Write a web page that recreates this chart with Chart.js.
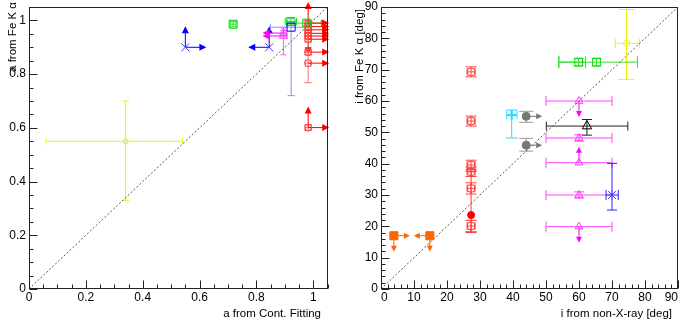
<!DOCTYPE html>
<html><head><meta charset="utf-8">
<script src="https://cdn.jsdelivr.net/npm/chart.js@4.4.1/dist/chart.umd.min.js"></script>
<style>
html,body{margin:0;padding:0;background:#fff;width:685px;height:321px;overflow:hidden}
#c1{position:absolute;left:0;top:0}
#c2{position:absolute;left:342px;top:0}
</style></head><body>
<canvas id="c1" width="342" height="321"></canvas>
<canvas id="c2" width="343" height="321"></canvas>
<script>
// ================= LEFT PANEL : spin a =================
const aXTicks = [0, 0.2, 0.4, 0.6, 0.8, 1];
const aXTickLabels = ['0', '0.2', '0.4', '0.6', '0.8', '1'];
const aYTicks = [0, 0.2, 0.4, 0.6, 0.8, 1];
const aYTickLabels = ['0', '0.2', '0.4', '0.6', '0.8', '1'];
const aXTitle = 'a from Cont. Fitting';
const aYTitle = 'a from Fe K α';
const aDiagonal = [0, 1.05];

const aYelX = [0.34], aYelY = [0.55], aYelXLo = [0.28], aYelXHi = [0.20], aYelYLo = [0.22], aYelYHi = [0.15];
const aBlueXX = [0.55, 0.845], aBlueXY = [0.90, 0.90], aBlueXLim = ['UR', 'UL'];
const aBlueSqX = [0.922], aBlueSqY = [0.975], aBlueSqXLo = [0.073], aBlueSqXHi = [0.05], aBlueSqYLo = [0.255], aBlueSqYHi = [0.015];
const aGreenX = [0.718, 0.921, 0.977], aGreenY = [0.986, 0.996, 0.99];
const aGreenXLo = [0.01, 0.02, 0.07], aGreenXHi = [0.01, 0.02, 0.01], aGreenYLo = [0.01, 0.01, 0.01], aGreenYHi = [0.01, 0.01, 0.01], aGreenLim = ['', '', 'R'];
const aMagX = [0.895, 0.895], aMagY = [0.953, 0.942], aMagXLo = [0, 0], aMagXHi = [0.012, 0.012], aMagYLo = [0.01, 0.07], aMagYHi = [0.01, 0.03], aMagLim = ['L', 'L'];
const aRedX = [0.982, 0.982, 0.982, 0.982, 0.982, 0.982, 0.982, 0.982, 0.982];
const aRedY = [0.99, 0.977, 0.965, 0.952, 0.942, 0.93, 0.882, 0.841, 0.601];
const aRedXLo = [0.01, 0.01, 0.01, 0.01, 0.01, 0.01, 0.01, 0.01, 0.01];
const aRedXHi = [0.01, 0.01, 0.01, 0.01, 0.01, 0.01, 0.01, 0.01, 0.01];
const aRedYLo = [0.01, 0.01, 0.01, 0.01, 0.01, 0.01, 0.01, 0.073, 0.01];
const aRedYHi = [0.01, 0.01, 0.01, 0.01, 0.01, 0.01, 0.01, 0.04, 0.01];
const aRedLim = ['UR', 'R', 'R', 'DR', 'R', 'R', 'R', 'R', 'UR'];

// ================= RIGHT PANEL : inclination i =================
const iXTicks = [0, 10, 20, 30, 40, 50, 60, 70, 80, 90];
const iXTickLabels = ['0', '10', '20', '30', '40', '50', '60', '70', '80', '90'];
const iYTicks = [0, 10, 20, 30, 40, 50, 60, 70, 80, 90];
const iYTickLabels = ['0', '10', '20', '30', '40', '50', '60', '70', '80', '90'];
const iXTitle = 'i from non-X-ray [deg]';
const iYTitle = 'i from Fe K α [deg]';
const iDiagonal = [0, 90];

const iYelX = [74.4], iYelY = [78.4], iYelXLo = [3.4], iYelXHi = [3.9], iYelYLo = [11.5], iYelYHi = [10.8];
const iGreenX = [59.9, 65.3], iGreenY = [72.4, 72.4], iGreenXLo = [6.0, 11.4], iGreenXHi = [2.1, 12.4], iGreenYLo = [1.2, 1.2], iGreenYHi = [1.2, 1.2];
const iRedX = [27.3, 27.3, 27.3, 27.3, 27.3, 27.3], iRedY = [69.3, 53.6, 39.6, 37.4, 32.1, 20.1];
const iRedXLo = [1.2, 1.2, 1.2, 1.2, 1.2, 1.2], iRedXHi = [1.2, 1.2, 1.2, 1.2, 1.2, 1.2];
const iRedYLo = [1.6, 1.6, 1.5, 1.5, 1.8, 1.8], iRedYHi = [1.6, 1.6, 1.5, 1.5, 1.8, 1.8];
const iRedFillX = [27.3], iRedFillY = [23.6], iRedFillYLo = [5.6], iRedFillYHi = [14.0];
const iCyanX = [39.6], iCyanY = [55.5], iCyanXLo = [1.5], iCyanXHi = [1.6], iCyanYLo = [7.3], iCyanYHi = [1.6];
const iGrayX = [44.0, 44.0], iGrayY = [55.1, 45.9], iGrayYLo = [1.9, 1.9], iGrayYHi = [1.6, 2.2], iGrayLim = ['R', 'R'];
const iBlackX = [62.4], iBlackY = [52.0], iBlackXLo = [12.3], iBlackXHi = [12.4], iBlackYLo = [2.9], iBlackYHi = [2.1];
const iMagX = [60, 60, 60, 60, 60], iMagY = [60.0, 48.2, 40.3, 30.0, 19.9];
const iMagXLo = [10, 10, 10, 10, 10], iMagXHi = [10, 10, 10, 10, 10];
const iMagYLo = [0, 1, 0, 1, 0], iMagYHi = [0, 1, 0, 1, 0], iMagLim = ['D', '', 'U', '', 'D'];
const iBlueX = [70], iBlueY = [30], iBlueXLo = [1.8], iBlueXHi = [1.9], iBlueYLo = [4.8], iBlueYHi = [10.1];
const iOrangeX = [3.9, 14.8], iOrangeY = [17, 17], iOrangeLim = ['RD', 'LD'];

// ================= helpers =================
const FONT = "'Liberation Sans', Arial, Helvetica, sans-serif";

function pts(xs, ys) { return xs.map((v, i) => ({x: v, y: ys[i]})); }
function set(xs, ys, style, err) {
  return Object.assign({type: 'scatter', data: pts(xs, ys), showLine: false, errors: err || {}, order: 1}, style);
}
function diag(vals) {
  return {type: 'line', data: pts(vals, vals), borderColor: '#555', borderWidth: 1, borderDash: [2, 2],
          pointRadius: 0, fill: false, order: 5, clip: false};
}

const errorBars = {
  id: 'errorBars',
  beforeDatasetsDraw(chart, args, o) {
    const ctx = chart.ctx, xs = chart.scales.x, ys = chart.scales.y;
    const line = (a, b, c, d) => { ctx.beginPath(); ctx.moveTo(a, b); ctx.lineTo(c, d); ctx.stroke(); };
    const dirs = {U: [0, -1], D: [0, 1], L: [-1, 0], R: [1, 0]};
    chart.data.datasets.forEach(ds => {
      const e = ds.errors; if (!e) return;
      ds.data.forEach((p, i) => {
        const px = xs.getPixelForValue(p.x), py = ys.getPixelForValue(p.y);
        ctx.save();
        ctx.lineWidth = 1;
        ctx.strokeStyle = ds.errColor || ds.borderColor;
        const xl = e.xlo ? e.xlo[i] : 0, xh = e.xhi ? e.xhi[i] : 0;
        const yl = e.ylo ? e.ylo[i] : 0, yh = e.yhi ? e.yhi[i] : 0;
        if (xl || xh) {
          const x1 = xs.getPixelForValue(p.x - xl), x2 = xs.getPixelForValue(p.x + xh);
          line(x1, py, x2, py);
          const c = (ds.capX || 8) / 2;
          if (xl) line(x1, py - c, x1, py + c);
          if (xh) line(x2, py - c, x2, py + c);
        }
        if (yl || yh) {
          const y1 = ys.getPixelForValue(p.y - yl), y2 = ys.getPixelForValue(p.y + yh);
          line(px, y1, px, y2);
          const c = (ds.capY || 8) / 2;
          if (yl) line(px - c, y1, px + c, y1);
          if (yh) line(px - c, y2, px + c, y2);
        }
        const lim = e.lim ? e.lim[i] : '';
        for (const d of lim) {
          const v = dirs[d];
          const L = o.arrowLen, hl = o.headLen, hw = o.headWidth;
          const tx = px + v[0] * L, ty = py + v[1] * L;
          ctx.strokeStyle = ds.arrowColor || ds.borderColor;
          ctx.fillStyle = ds.arrowColor || ds.borderColor;
          line(px, py, tx - v[0] * hl * 0.5, ty - v[1] * hl * 0.5);
          const bx = tx - v[0] * hl, by = ty - v[1] * hl;
          ctx.beginPath();
          ctx.moveTo(tx, ty);
          ctx.lineTo(bx - v[1] * hw, by + v[0] * hw);
          ctx.lineTo(bx + v[1] * hw, by - v[0] * hw);
          ctx.closePath(); ctx.fill();
        }
        ctx.restore();
      });
    });
  }
};

const frameAxes = {
  id: 'frameAxes',
  afterDatasetsDraw(chart, args, o) {
    const ctx = chart.ctx, a = chart.chartArea, xs = chart.scales.x, ys = chart.scales.y;
    ctx.save();
    ctx.strokeStyle = '#222'; ctx.lineWidth = 1;
    const L = Math.round(a.left) + 0.5, R = Math.round(a.right) - 0.5, T = Math.round(a.top) + 0.5, B = Math.round(a.bottom) - 0.5;
    ctx.strokeRect(L, T, R - L, B - T);
    const n = Math.round(xs.max / o.minorX);
    for (let k = 0; k <= n; k++) {
      const v = k * o.minorX;
      const major = o.majorX.some(m => Math.abs(m - v) < 1e-9);
      const px = Math.round(xs.getPixelForValue(v)) + 0.5;
      ctx.beginPath(); ctx.moveTo(px, B); ctx.lineTo(px, B - (major ? 8 : 4)); ctx.stroke();
    }
    const m = Math.round(ys.max / o.minorY);
    for (let k = 0; k <= m; k++) {
      const v = k * o.minorY;
      const major = o.majorY.some(q => Math.abs(q - v) < 1e-9);
      const py = Math.round(ys.getPixelForValue(v)) + 0.5;
      ctx.beginPath(); ctx.moveTo(L, py); ctx.lineTo(L + (major ? 8 : 4), py); ctx.stroke();
    }
    ctx.restore();
  },
  afterDraw(chart, args, o) {
    const ctx = chart.ctx;
    ctx.save();
    ctx.fillStyle = '#000';
    ctx.font = '11.5px ' + FONT;
    ctx.textBaseline = 'alphabetic';
    ctx.textAlign = 'right';
    ctx.fillText(o.xTitle, o.xTitleRight, o.xTitleBase);
    ctx.translate(o.yTitleBase, o.yTitleTop);
    ctx.rotate(-Math.PI / 2);
    ctx.textAlign = 'right';
    ctx.fillText(o.yTitle, 0, 0);
    ctx.restore();
  }
};

function axes(xmax, ymax, xt, xl, yt, yl, yWidth, xAlign) {
  return {
    x: {type: 'linear', min: 0, max: xmax,
        afterBuildTicks: s => { s.ticks = xt.map(v => ({value: v})); },
        afterFit: s => { s.height = 32; s.paddingLeft = 0; s.paddingRight = 0; },
        grid: {display: false, drawTicks: false}, border: {display: false},
        ticks: {padding: 1, color: '#000', font: {family: FONT, size: 12}, maxRotation: 0, autoSkip: false,
                align: xAlign, callback: (v, i) => xl[i]}},
    y: {type: 'linear', min: 0, max: ymax,
        afterBuildTicks: s => { s.ticks = yt.map(v => ({value: v})); },
        afterFit: s => { s.width = yWidth; s.paddingTop = 0; s.paddingBottom = 0; },
        grid: {display: false, drawTicks: false}, border: {display: false},
        ticks: {padding: 3, color: '#000', font: {family: FONT, size: 12}, autoSkip: false,
                callback: (v, i) => yl[i]}}
  };
}

// ================= LEFT CHART =================
new Chart(document.getElementById('c1'), {
  type: 'scatter',
  data: {datasets: [
    diag(aDiagonal),
    set(aYelX, aYelY, {pointStyle: 'circle', pointRadius: 2.5, borderColor: '#eeee00', backgroundColor: 'rgba(0,0,0,0)', borderWidth: 1, errColor: '#f2f200', capX: 6, capY: 7},
        {xlo: aYelXLo, xhi: aYelXHi, ylo: aYelYLo, yhi: aYelYHi}),
    set(aBlueXX, aBlueXY, {pointStyle: 'crossRot', pointRadius: 5.7, borderColor: '#3a3aff', backgroundColor: 'rgba(0,0,0,0)', borderWidth: 1, arrowColor: '#0000ff'},
        {lim: aBlueXLim}),
    set(aBlueSqX, aBlueSqY, {pointStyle: 'rect', pointRadius: 5.7, borderColor: '#0000ff', backgroundColor: 'rgba(0,0,0,0)', borderWidth: 1, errColor: '#8c8cff', capX: 7, capY: 7},
        {xlo: aBlueSqXLo, xhi: aBlueSqXHi, ylo: aBlueSqYLo, yhi: aBlueSqYHi}),
    set(aGreenX, aGreenY, {pointStyle: 'rect', pointRadius: 5.7, borderColor: '#00dd00', backgroundColor: 'rgba(0,0,0,0)', borderWidth: 1, errColor: '#22dd22', arrowColor: '#00dd00', capX: 7, capY: 7},
        {xlo: aGreenXLo, xhi: aGreenXHi, ylo: aGreenYLo, yhi: aGreenYHi, lim: aGreenLim}),
    set(aMagX, aMagY, {pointStyle: 'triangle', pointRadius: 4.5, borderColor: '#ff33ff', backgroundColor: 'rgba(0,0,0,0)', borderWidth: 1, errColor: '#ff55ff', arrowColor: '#ff00ff', capX: 6, capY: 6},
        {xlo: aMagXLo, xhi: aMagXHi, ylo: aMagYLo, yhi: aMagYHi, lim: aMagLim}),
    set(aRedX, aRedY, {pointStyle: 'circle', pointRadius: 3.5, borderColor: '#ff3333', backgroundColor: 'rgba(0,0,0,0)', borderWidth: 1, errColor: '#ff7070', arrowColor: '#ff0000', capX: 7, capY: 8},
        {xlo: aRedXLo, xhi: aRedXHi, ylo: aRedYLo, yhi: aRedYHi, lim: aRedLim})
  ]},
  options: {
    responsive: false, devicePixelRatio: 1, animation: false, events: [],
    layout: {padding: {left: 0, top: 7, right: 14.5, bottom: 0}},
    plugins: {legend: {display: false}, tooltip: {enabled: false},
      errorBars: {arrowLen: 21, headLen: 7, headWidth: 3.5},
      frameAxes: {minorX: 0.05, minorY: 0.05, majorX: aXTicks, majorY: aYTicks,
        xTitle: aXTitle, xTitleRight: 321, xTitleBase: 317, yTitle: aYTitle, yTitleBase: 16, yTitleTop: 2}},
    scales: axes(1.05, 1.05, aXTicks, aXTickLabels, aYTicks, aYTickLabels, 29, 'center')
  },
  plugins: [errorBars, frameAxes]
});

// ================= RIGHT CHART =================
new Chart(document.getElementById('c2'), {
  type: 'scatter',
  data: {datasets: [
    diag(iDiagonal),
    set(iYelX, iYelY, {pointStyle: 'circle', pointRadius: 3, borderColor: '#eeee00', backgroundColor: 'rgba(0,0,0,0)', borderWidth: 1, errColor: '#f2f200', capX: 9, capY: 16},
        {xlo: iYelXLo, xhi: iYelXHi, ylo: iYelYLo, yhi: iYelYHi}),
    set(iGreenX, iGreenY, {pointStyle: 'rect', pointRadius: 5.5, borderColor: '#00dd00', backgroundColor: 'rgba(0,0,0,0)', borderWidth: 1, errColor: '#33e033', capX: 12, capY: 10},
        {xlo: iGreenXLo, xhi: iGreenXHi, ylo: iGreenYLo, yhi: iGreenYHi}),
    set(iRedX, iRedY, {pointStyle: 'circle', pointRadius: 4, borderColor: '#ff3333', backgroundColor: 'rgba(0,0,0,0)', borderWidth: 1, errColor: '#ff4444', capX: 8, capY: 11},
        {xlo: iRedXLo, xhi: iRedXHi, ylo: iRedYLo, yhi: iRedYHi}),
    set(iRedFillX, iRedFillY, {pointStyle: 'circle', pointRadius: 3.5, borderColor: '#ff0000', backgroundColor: '#ff0000', borderWidth: 1, errColor: '#ff3333', capX: 8, capY: 11},
        {ylo: iRedFillYLo, yhi: iRedFillYHi}),
    set(iCyanX, iCyanY, {pointStyle: 'cross', pointRadius: 5, borderColor: '#22ddff', backgroundColor: 'rgba(0,0,0,0)', borderWidth: 2, errColor: '#22ddff', capX: 8, capY: 12},
        {xlo: iCyanXLo, xhi: iCyanXHi, ylo: iCyanYLo, yhi: iCyanYHi}),
    set(iGrayX, iGrayY, {pointStyle: 'circle', pointRadius: 4, borderColor: '#777', backgroundColor: '#777', borderWidth: 1, errColor: '#999', arrowColor: '#777', capY: 14},
        {ylo: iGrayYLo, yhi: iGrayYHi, lim: iGrayLim}),
    set(iBlackX, iBlackY, {pointStyle: 'triangle', pointRadius: 5.5, borderColor: '#000', backgroundColor: 'rgba(0,0,0,0)', borderWidth: 1, errColor: '#222', capX: 9, capY: 10},
        {xlo: iBlackXLo, xhi: iBlackXHi, ylo: iBlackYLo, yhi: iBlackYHi}),
    set(iMagX, iMagY, {pointStyle: 'triangle', pointRadius: 4.5, borderColor: '#ff33ff', backgroundColor: 'rgba(0,0,0,0)', borderWidth: 1, errColor: '#ff44ff', arrowColor: '#ff00ff', capX: 10, capY: 10},
        {xlo: iMagXLo, xhi: iMagXHi, ylo: iMagYLo, yhi: iMagYHi, lim: iMagLim}),
    set(iBlueX, iBlueY, {pointStyle: 'crossRot', pointRadius: 5.5, borderColor: '#3a3aff', backgroundColor: 'rgba(0,0,0,0)', borderWidth: 1, errColor: '#2222ff', capX: 10, capY: 10},
        {xlo: iBlueXLo, xhi: iBlueXHi, ylo: iBlueYLo, yhi: iBlueYHi}),
    set(iOrangeX, iOrangeY, {pointStyle: 'rect', pointRadius: 5.7, borderColor: '#ff6600', backgroundColor: '#ff6600', borderWidth: 1, arrowColor: '#ff6600'},
        {lim: iOrangeLim})
  ]},
  options: {
    responsive: false, devicePixelRatio: 1, animation: false, events: [],
    layout: {padding: {left: 0, top: 7, right: 5, bottom: 0}},
    plugins: {legend: {display: false}, tooltip: {enabled: false},
      errorBars: {arrowLen: 16, headLen: 6, headWidth: 3},
      frameAxes: {minorX: 2, minorY: 2, majorX: iXTicks, majorY: iYTicks,
        xTitle: iXTitle, xTitleRight: 330, xTitleBase: 317, yTitle: iYTitle, yTitleBase: 21, yTitleTop: 9}},
    scales: axes(90, 90, iXTicks, iXTickLabels, iYTicks, iYTickLabels, 39, 'inner')
  },
  plugins: [errorBars, frameAxes]
});
</script>
</body></html>
